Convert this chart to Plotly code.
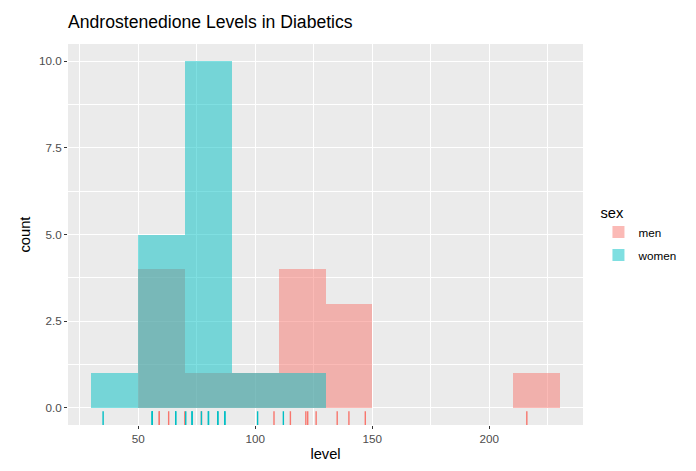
import plotly.graph_objects as go

men_levels = [59, 59, 63, 69.9, 77, 108, 115, 121.6, 122.4, 126, 135, 140, 147, 216]
women_levels = [35, 56, 56, 56, 66, 66, 70.3, 73, 73, 77, 80, 80, 84, 84, 87, 87, 101, 112]
groups = ["men", "women"]
fills = {"men": "rgba(248,118,109,0.5)", "women": "rgba(0,191,196,0.5)"}
lines = {"men": "#F8766D", "women": "#00BFC4"}
data = {"men": men_levels, "women": women_levels}

x_ticks = [50, 100, 150, 200]
y_ticks = [0, 2.5, 5, 7.5, 10]

FONT = "Liberation Sans, Arial, Helvetica, sans-serif"

fig = go.Figure()
for g in groups:
    fig.add_trace(go.Histogram(
        x=data[g], name=g, legendgroup=g,
        xbins=dict(start=30, end=230, size=20), autobinx=False,
        marker=dict(color=fills[g], line=dict(width=0)),
        showlegend=True,
    ))
for g in groups:
    fig.add_trace(go.Scatter(
        x=data[g], y=[0.015] * len(data[g]), yaxis="y2", mode="markers",
        marker=dict(symbol="line-ns", size=11.5, line=dict(color=lines[g], width=1.4)),
        legendgroup=g, showlegend=False, hoverinfo="x",
    ))

fig.update_layout(
    width=696, height=471,
    margin=dict(l=68, r=113, t=44, b=44),
    paper_bgcolor="white", plot_bgcolor="#EBEBEB",
    barmode="overlay", bargap=0,
    font=dict(family=FONT, color="#000000"),
    title=dict(text="Androstenedione Levels in Diabetics", x=68/696, xanchor="left",
               y=1 - 22/471, yanchor="middle", font=dict(size=17.6, color="black")),
    xaxis=dict(range=[20, 240], tickvals=x_ticks, ticks="outside", ticklen=3, tickwidth=1.07,
               tickcolor="#333333", tickfont=dict(size=11.7, color="#4D4D4D"),
               showgrid=True, gridcolor="white", gridwidth=1.07, zeroline=False,
               minor=dict(dtick=25, tick0=0, showgrid=True, gridcolor="white", gridwidth=0.5),
               title=dict(text="level", font=dict(size=14.7), standoff=4), showline=False),
    yaxis=dict(range=[-0.5, 10.5], tickvals=y_ticks, tickformat=".1f", ticks="outside", ticklen=3,
               tickwidth=1.07, tickcolor="#333333", tickfont=dict(size=11.7, color="#4D4D4D"),
               showgrid=True, gridcolor="white", gridwidth=1.07, zeroline=False,
               minor=dict(dtick=1.25, tick0=0, showgrid=True, gridcolor="white", gridwidth=0.5),
               title=dict(text="count", font=dict(size=14.7), standoff=4), showline=False),
    yaxis2=dict(range=[0, 1], overlaying="y", visible=False, fixedrange=True),
    legend=dict(title=dict(text="sex", font=dict(size=14.7)), x=1.03, xanchor="left",
                y=0.5, yanchor="middle", font=dict(size=11.7), bgcolor="white",
                tracegroupgap=4, itemsizing="constant"),
)

fig.write_html("out.html")
